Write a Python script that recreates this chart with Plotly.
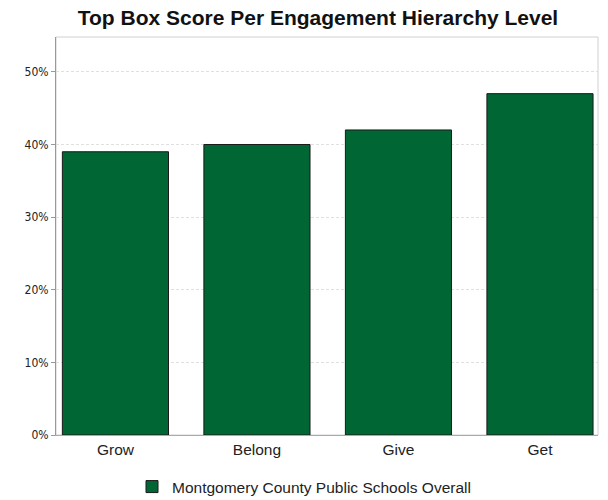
import plotly.graph_objects as go

categories = ["Grow", "Belong", "Give", "Get"]
values = [0.39, 0.40, 0.42, 0.47]
series_name = "Montgomery County Public Schools Overall"
tick_vals = [0, 0.1, 0.2, 0.3, 0.4, 0.5]
tick_text = ["0%", "10%", "20%", "30%", "40%", "50%"]

fig = go.Figure()
fig.add_trace(go.Bar(
    x=list(range(len(categories))), y=values, name=series_name,
    width=0.75,
    marker=dict(color="#006633", line=dict(color="#1a1a1a", width=1)),
    showlegend=True,
))

fig.update_layout(
    width=608, height=500,
    margin=dict(l=56, r=10, t=37, b=65, autoexpand=False),
    paper_bgcolor="white", plot_bgcolor="white",
    font=dict(family="Liberation Sans, Arial", size=13, color="#222"),
    title=dict(text="<b>Top Box Score Per Engagement Hierarchy Level</b>",
               x=0.523, xref="container", xanchor="center", y=0.964, yanchor="middle",
               font=dict(size=21, color="#111", family="Liberation Sans, Arial")),
    xaxis=dict(tickmode="array", tickvals=list(range(len(categories))), ticktext=categories,
               range=[-0.42, 3.41], showgrid=False, showline=True, linecolor="#aaaaaa",
               linewidth=1, mirror=False, ticks="", zeroline=False,
               tickfont=dict(size=15.5, color="#222")),
    yaxis=dict(range=[0, 0.548], tickvals=tick_vals, ticktext=tick_text,
               showgrid=True, gridcolor="#e0e0e0", griddash="3px,2px", gridwidth=1,
               showline=True, linecolor="#999999", linewidth=1,
               ticks="outside", ticklen=4, tickcolor="#999999",
               zeroline=False, tickfont=dict(size=12, color="#222",
               family="DejaVu Sans Condensed, DejaVu Sans, Tahoma")),
    legend=dict(orientation="h", x=0.5, xanchor="center", xref="container",
                y=0.06, yanchor="top", yref="container", bgcolor="rgba(0,0,0,0)",
                font=dict(size=15.5, color="#222"), itemwidth=30),
    bargap=0.25,
)
fig.add_shape(type="rect", xref="paper", yref="paper", x0=0, y0=0, x1=1, y1=1,
              line=dict(color="#d0d0d0", width=1), layer="below")

fig.write_html("out.html")
